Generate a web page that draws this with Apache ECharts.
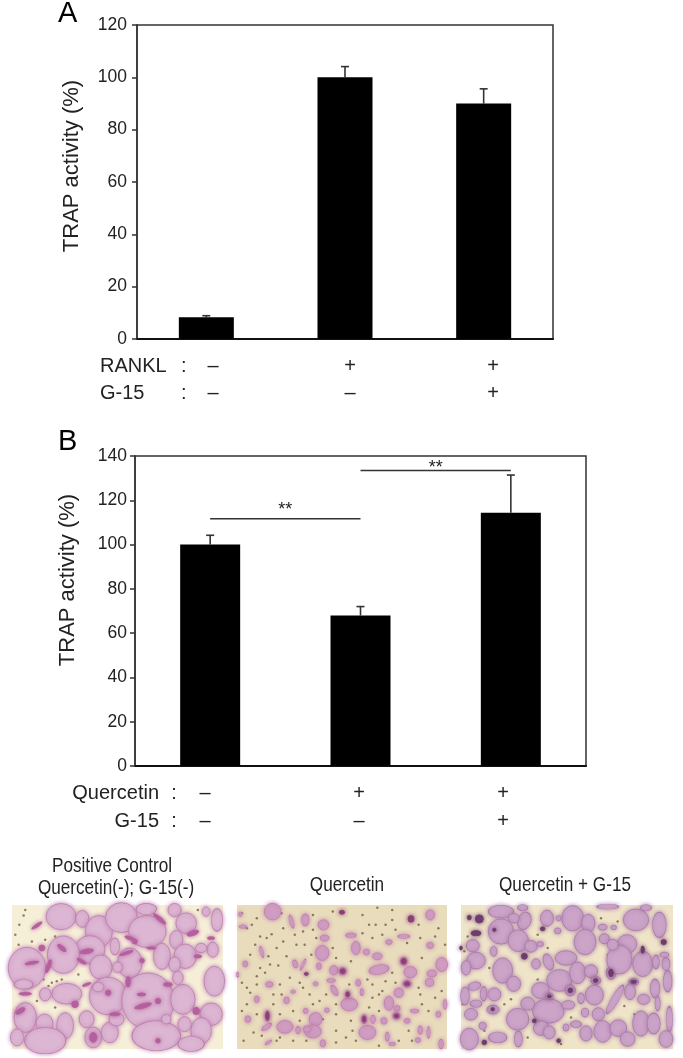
<!DOCTYPE html>
<html>
<head>
<meta charset="utf-8">
<style>
  html, body { margin: 0; padding: 0; background: #fff; }
  #chart { width: 683px; height: 1058px; }
</style>
<script src="https://cdn.jsdelivr.net/npm/echarts@6/dist/echarts.min.js"></script>
</head>
<body>
<div id="chart"></div>
<script>
// panel A
const groupsA = ["control", "RANKL", "RANKL + G-15"];
const valuesA = [8.3, 100, 90];
const errorTopsA = [8.9, 104.1, 95.6];
const ticksA = { max: 120, step: 20 };
const ranklRow = ["–", "+", "+"];
const g15RowA = ["–", "–", "+"];

// panel B
const groupsB = ["control", "Quercetin", "Quercetin + G-15"];
const valuesB = [100, 68, 114.4];
const errorTopsB = [104.2, 72, 131.4];
const ticksB = { max: 140, step: 20 };
const quercetinRow = ["–", "+", "+"];
const g15RowB = ["–", "–", "+"];
// from group, to group, height of the line
const significance = [
  [0, 1, 111.7],
  [1, 2, 133.4]
];
const starGaps = [9, 3];

const photo1Cells = [
  [148,35,80,70],[212,42,35,45],[262,80,72,85],[330,38,85,80],[408,80,100,85],[405,12,55,30],
  [490,15,35,35],[525,55,55,55],[618,45,30,60],[585,20,20,25],[235,135,80,75],[155,150,85,100],
  [268,188,60,65],[45,190,100,110],[495,105,35,50],[522,155,60,65],[452,155,45,70],[355,175,65,80],
  [605,135,30,40],[610,230,55,80],[570,130,30,25],[165,268,80,55],[290,275,100,100],[410,290,140,150],
  [515,285,65,80],[600,330,60,60],[40,340,60,80],[98,358,45,50],[160,365,45,70],[225,345,40,45],
  [100,410,110,70],[15,400,35,45],[245,400,45,55],[295,385,45,55],[435,395,130,80],[570,380,55,70],
  [520,360,35,40],[465,345,25,25],[315,345,40,35],[35,240,50,25],[100,270,30,35],[260,248,30,25],
  [318,188,25,28],[490,180,30,40],[500,220,28,35],[540,420,70,40],[310,125,25,45]
];
const photo1Stains = [
  [75,62,35,10,35],[355,100,30,10,-20],[345,145,40,10,20],[392,168,14,14,0],[420,130,25,8,0],
  [210,170,30,10,-30],[40,268,35,10,0],[545,85,35,15,20],[560,155,22,10,0],[310,330,30,10,0],
  [190,300,20,20,0],[110,185,12,40,-20],[600,100,20,10,0],[350,232,14,30,0],[445,42,45,12,-40],
  [470,240,25,12,0],[555,320,20,22,0],[370,110,15,15,0],[225,240,25,8,20],[90,130,18,18,0],
  [225,140,40,14,10],[150,130,30,12,-40],[395,305,50,14,15],[440,290,16,16,0],[440,410,14,14,0],
  [390,270,24,10,0],[60,175,40,10,10],[290,265,16,16,0],[245,400,22,30,0],[25,320,30,14,30]
];
const photo1Debris = [
  [40,15],[35,32],[22,60],[100,105],[130,95],[85,210],[120,235],[135,230],[95,225],[75,290],
  [20,120],[10,90],[330,150],[420,210],[200,210],[130,310],[110,245],[60,110],[150,225],[560,15]
];

const photo2Cells = [
  [108,20,50,50],[207,45,22,35],[262,60,32,30],[165,50,12,40,15],[265,100,26,18],[258,145,40,45],
  [360,130,26,40],[345,92,30,14],[392,142,18,18],[425,155,28,20],[430,195,60,28,10],[505,95,35,12],
  [460,112,20,14],[505,170,20,24],[525,203,38,34],[620,180,35,42],[590,207,28,20],[583,234,25,24],
  [585,122,20,18],[585,30,26,30],[490,265,28,28],[515,238,25,20],[460,297,28,42],[340,300,50,38],
  [335,270,14,22],[295,258,16,34,30],[293,197,24,28],[320,200,22,22],[285,228,24,12],[367,235,14,20],
  [378,263,10,20],[248,185,14,20],[200,180,8,36,-25],[176,178,14,24,15],[75,142,10,34,15],[98,240,22,16],
  [25,178,14,18],[150,288,16,20],[60,285,14,20],[145,368,48,38],[90,368,34,14,35],[238,345,38,40],
  [230,382,50,38],[212,375,22,18],[272,318,14,14],[208,320,14,16],[33,345,16,20],[92,335,14,32],
  [185,378,14,22],[395,385,50,42],[385,345,16,26],[412,345,14,24],[445,350,18,20],[483,335,22,20],
  [485,312,18,16],[515,350,18,14],[538,320,24,12],[555,378,14,24],[580,385,10,34],[548,408,16,14],
  [618,420,14,28],[455,398,12,26],[260,418,16,22],[95,415,22,8,35],[470,420,18,10],[610,330,14,18],
  [630,300,12,28],[2,210,8,14],[238,238,14,12],[170,262,14,10],[18,65,22,10],[10,28,10,14]
];
const photo2Stains = [
  [527,42,18,20,0],[320,200,14,14,0],[210,208,12,10,0],[92,335,10,24,0],[335,270,10,14,0],
  [505,170,14,16,0],[515,238,16,12,0],[385,345,10,16,0],[483,335,14,12,0],[318,22,16,12,0]
];
const photo2Debris = [
  [105,88],[320,22],[425,8],[470,15],[15,25],[135,25],[230,30],[70,190],[125,183],[150,155],
  [55,120],[30,70],[345,350],[555,270],[200,80],[90,100],[230,75],[240,100],[290,130],[300,160],
  [410,100],[450,60],[480,75],[550,60],[610,70],[440,260],[410,280],[130,240],[110,270],[30,300],
  [50,385],[20,410],[120,410],[170,410],[330,400],[300,380],[350,380],[180,120],[120,130],[40,150],
  [160,220],[200,250],[60,240],[30,250],[130,330],[170,320],[250,290],[270,270],[410,240],[450,230],
  [560,300],[600,280],[530,410],[360,410],[300,330],[420,60],[380,30],[290,20],[60,40],[100,180],
  [45,60],[70,95],[140,70],[175,90],[205,120],[225,150],[140,110],[95,155],[60,215],[85,205],
  [40,265],[15,235],[15,320],[60,330],[110,300],[135,270],[190,235],[220,270],[230,300],[190,350],
  [130,400],[75,395],[300,300],[260,345],[340,240],[395,225],[430,270],[400,310],[430,320],[345,170],
  [380,85],[400,60],[440,90],[470,45],[515,115],[555,100],[600,95],[630,120],[560,160],[470,205],
  [480,235],[550,250],[620,260],[580,320],[640,350],[520,380],[490,410],[430,425],[300,415],[210,410]
];

const photo3Cells = [
  [120,20,70,35],[185,8,28,16],[258,40,36,44],[190,48,36,50,-20],[158,40,30,26],[335,40,60,70],
  [382,55,36,50],[120,80,70,70],[172,108,56,60],[210,125,34,32],[372,112,60,70],[525,45,70,60],
  [595,60,38,70],[440,5,60,14],[555,8,30,16],[35,123,36,34],[45,168,52,46],[98,140,18,28],
  [15,190,26,40],[125,198,55,70],[158,238,38,42],[225,178,24,28],[262,172,26,46,20],[315,160,60,40],
  [295,228,70,60],[350,205,44,60],[390,200,36,36,-30],[404,228,28,22],[450,205,26,36],[328,258,28,30],
  [498,118,54,52],[475,165,70,80],[545,178,55,70],[585,172,18,38],[518,232,28,18],[507,262,30,44],
  [582,252,26,52],[620,230,24,60],[615,178,22,36],[462,285,20,90,-30],[400,272,50,55],[360,282,18,30],
  [262,320,88,68],[238,258,48,44],[265,276,22,18],[322,302,36,24],[200,298,38,36],[68,268,18,40],
  [100,270,36,36],[40,245,36,22,15],[12,275,24,50],[45,298,32,20],[96,316,34,24],[30,330,36,32],
  [170,345,62,60],[372,325,20,24],[412,330,34,36],[240,372,42,40],[265,385,32,36],[345,360,30,18],
  [315,370,16,20],[375,388,34,42],[425,382,48,60],[472,372,46,46],[540,358,46,70],[578,358,36,58],
  [625,345,18,70],[615,405,38,46],[500,405,40,40],[548,285,34,28],[590,298,14,40],[25,405,50,60],
  [110,400,50,30],[172,405,22,44],[65,365,20,20],[425,67,24,16],[458,68,16,12],[430,102,28,28,30],
  [455,120,30,30],[238,118,18,14],[290,78,18,16],[293,40,14,14],[610,150,24,14]
];
const photo3Stains = [
  [55,42,24,24,0],[25,38,12,14,0],[45,85,28,16,0],[608,112,16,16,0],[190,155,18,18,0],[95,315,10,10,0],
  [70,415,14,14,0],[293,410,12,12,0],[220,350,12,12,0],[0,130,8,12,0],[545,135,10,20,0],[245,72,14,12,0],
  [100,75,10,10,0],[450,205,14,22,0],[265,276,12,10,0],[518,232,16,10,0],[328,258,14,14,0],[404,228,14,12,0]
];
const photo3Debris = [
  [20,95],[10,140],[85,190],[230,90],[420,40],[470,50],[440,150],[260,130],[130,300],[150,285],
  [230,225],[490,305],[520,330],[330,340],[300,420],[5,300],[70,380],[200,400]
];

const FONT = "'Liberation Sans', Arial, sans-serif";
const INK = "#222";

function errorSeries(values, tops, axis) {
  return {
    type: "custom",
    xAxisIndex: axis,
    yAxisIndex: axis,
    z: 1,
    data: values.map((v, i) => [i, v, tops[i]]),
    encode: { x: 0, y: [1, 2] },
    renderItem(params, api) {
      const base = api.coord([api.value(0), api.value(1)]);
      const top = api.coord([api.value(0), api.value(2)]);
      const style = { stroke: "#333", lineWidth: 1.6, fill: null };
      return {
        type: "group",
        children: [
          { type: "line", shape: { x1: base[0], y1: base[1], x2: top[0], y2: top[1] }, style },
          { type: "line", shape: { x1: top[0] - 4, y1: top[1], x2: top[0] + 4, y2: top[1] }, style }
        ]
      };
    }
  };
}

function barSeries(values, axis, width) {
  return {
    type: "bar",
    xAxisIndex: axis,
    yAxisIndex: axis,
    barWidth: width,
    z: 2,
    itemStyle: { color: "#000" },
    data: values
  };
}

function chartAxes(groups, ticks, axis, margin) {
  return {
    x: {
      type: "category",
      gridIndex: axis,
      data: groups,
      axisLine: { show: true, lineStyle: { color: "#111", width: 2 } },
      axisTick: { show: false },
      axisLabel: { show: false }
    },
    y: {
      type: "value",
      gridIndex: axis,
      min: 0,
      max: ticks.max,
      interval: ticks.step,
      splitLine: { show: false },
      axisLine: { show: true, lineStyle: { color: "#333", width: 1.5 } },
      axisTick: { show: true, length: 5, lineStyle: { color: "#333", width: 1.5 } },
      axisLabel: { color: INK, fontFamily: FONT, fontSize: 17.5, margin }
    }
  };
}

function photoAxes(axis) {
  return {
    x: { type: "value", gridIndex: axis, min: 0, max: 636, show: false },
    y: { type: "value", gridIndex: axis, min: 0, max: 435, inverse: true, show: false }
  };
}

function blobSeries(blobs, axis, fill, edge, scale) {
  return {
    type: "scatter",
    xAxisIndex: axis,
    yAxisIndex: axis,
    silent: true,
    data: blobs,
    symbol: "circle",
    symbolSize: (v) => [v[2] * scale / 3, v[3] * scale / 3],
    symbolRotate: (v) => v[4] || 0,
    itemStyle: { color: fill, borderColor: edge, borderWidth: 0.8, opacity: 1, shadowBlur: 4, shadowColor: edge }
  };
}

function debrisSeries(dots, axis, colour, size) {
  return {
    type: "scatter",
    xAxisIndex: axis,
    yAxisIndex: axis,
    silent: true,
    data: dots,
    symbolSize: size,
    itemStyle: { color: colour, opacity: 0.75 }
  };
}

function label(text, x, y, opts) {
  return {
    type: "text",
    x,
    y,
    silent: true,
    style: Object.assign({
      text,
      fill: INK,
      font: "20px " + FONT,
      align: "left",
      verticalAlign: "middle"
    }, opts || {})
  };
}

function rowLabels(symbols, xs, y) {
  return symbols.map((s, i) => label(s, xs[i], y, { align: "center" }));
}

// captions over the photos are set in a condensed face in the original
function caption(text, x, y) {
  return Object.assign(label(text, x, y, { align: "center" }), { scaleX: 0.857 });
}

const axesA = chartAxes(groupsA, ticksA, 0, 10);
const axesB = chartAxes(groupsB, ticksB, 1, 8);
const axesP = [photoAxes(2), photoAxes(3), photoAxes(4)];

const chart = echarts.init(document.getElementById("chart"));
chart.setOption({
  animation: false,
  backgroundColor: "#fff",
  grid: [
    { left: 137, top: 25, width: 416, height: 314, show: true, borderColor: "#333", borderWidth: 1.5, backgroundColor: "transparent" },
    { left: 135, top: 456, width: 451, height: 310, show: true, borderColor: "#333", borderWidth: 1.5, backgroundColor: "transparent" },
    { left: 12, top: 905, width: 211, height: 144, show: true, borderWidth: 0, backgroundColor: "#f6efd8" },
    { left: 237, top: 905, width: 210, height: 144, show: true, borderWidth: 0, backgroundColor: "#e8dcbc" },
    { left: 461, top: 905, width: 212, height: 144, show: true, borderWidth: 0, backgroundColor: "#efe4c8" }
  ],
  xAxis: [axesA.x, axesB.x, axesP[0].x, axesP[1].x, axesP[2].x],
  yAxis: [axesA.y, axesB.y, axesP[0].y, axesP[1].y, axesP[2].y],
  series: [
    errorSeries(valuesA, errorTopsA, 0),
    barSeries(valuesA, 0, 55),
    errorSeries(valuesB, errorTopsB, 1),
    barSeries(valuesB, 1, 60),
    {
      type: "custom",
      xAxisIndex: 1,
      yAxisIndex: 1,
      z: 3,
      data: significance,
      encode: { x: [0, 1], y: 2 },
      renderItem(params, api) {
        const a = api.coord([api.value(0), api.value(2)]);
        const b = api.coord([api.value(1), api.value(2)]);
        return {
          type: "group",
          children: [
            { type: "line", shape: { x1: a[0], y1: a[1], x2: b[0], y2: b[1] }, style: { stroke: "#333", lineWidth: 1.5 } },
            { type: "text", x: (a[0] + b[0]) / 2, y: a[1] - starGaps[params.dataIndex], style: { text: "**", font: "18px " + FONT, fill: INK, align: "center", verticalAlign: "middle" } }
          ]
        };
      }
    },
    debrisSeries(photo1Debris, 2, "#6b5a3a", 2.5),
    blobSeries(photo1Cells, 2, "#dcb6d2", "#bd7fb0", 1.12),
    blobSeries(photo1Stains, 2, "#b5609f", "#b5609f", 1),
    debrisSeries(photo2Debris, 3, "#6b5a3a", 2.5),
    blobSeries(photo2Cells, 3, "#cf9ec2", "#c07fae", 1),
    blobSeries(photo2Stains, 3, "#8e3f78", "#8e3f78", 1),
    debrisSeries(photo3Debris, 4, "#6b5a3a", 2.5),
    blobSeries(photo3Cells, 4, "#cba4c8", "#a97aa9", 1.08),
    blobSeries(photo3Stains, 4, "#6f3c6e", "#6f3c6e", 1)
  ],
  graphic: [
    label("A", 58, 14, { font: "29px " + FONT, fill: "#000" }),
    label("B", 58, 442, { font: "29px " + FONT, fill: "#000" }),
    {
      type: "text", x: 72, y: 166, rotation: Math.PI / 2, silent: true,
      style: { text: "TRAP activity (%)", font: "22px " + FONT, fill: INK, align: "center", verticalAlign: "middle" }
    },
    {
      type: "text", x: 68, y: 580, rotation: Math.PI / 2, silent: true,
      style: { text: "TRAP activity (%)", font: "22px " + FONT, fill: INK, align: "center", verticalAlign: "middle" }
    },
    label("RANKL", 100, 366),
    label(":", 181, 366),
    label("G-15", 100, 393),
    label(":", 181, 393),
    label("Quercetin", 159, 793, { align: "right" }),
    label(":", 174, 793, { align: "center" }),
    label("G-15", 159, 821, { align: "right" }),
    label(":", 174, 821, { align: "center" }),
    ...rowLabels(ranklRow, [213, 350, 493], 366),
    ...rowLabels(g15RowA, [213, 350, 493], 393),
    ...rowLabels(quercetinRow, [205, 359, 503], 793),
    ...rowLabels(g15RowB, [205, 359, 503], 821),
    caption("Positive Control", 112, 866),
    caption("Quercetin(-); G-15(-)", 116, 888),
    caption("Quercetin", 347, 885),
    caption("Quercetin + G-15", 565, 885)
  ]
});
</script>
</body>
</html>
